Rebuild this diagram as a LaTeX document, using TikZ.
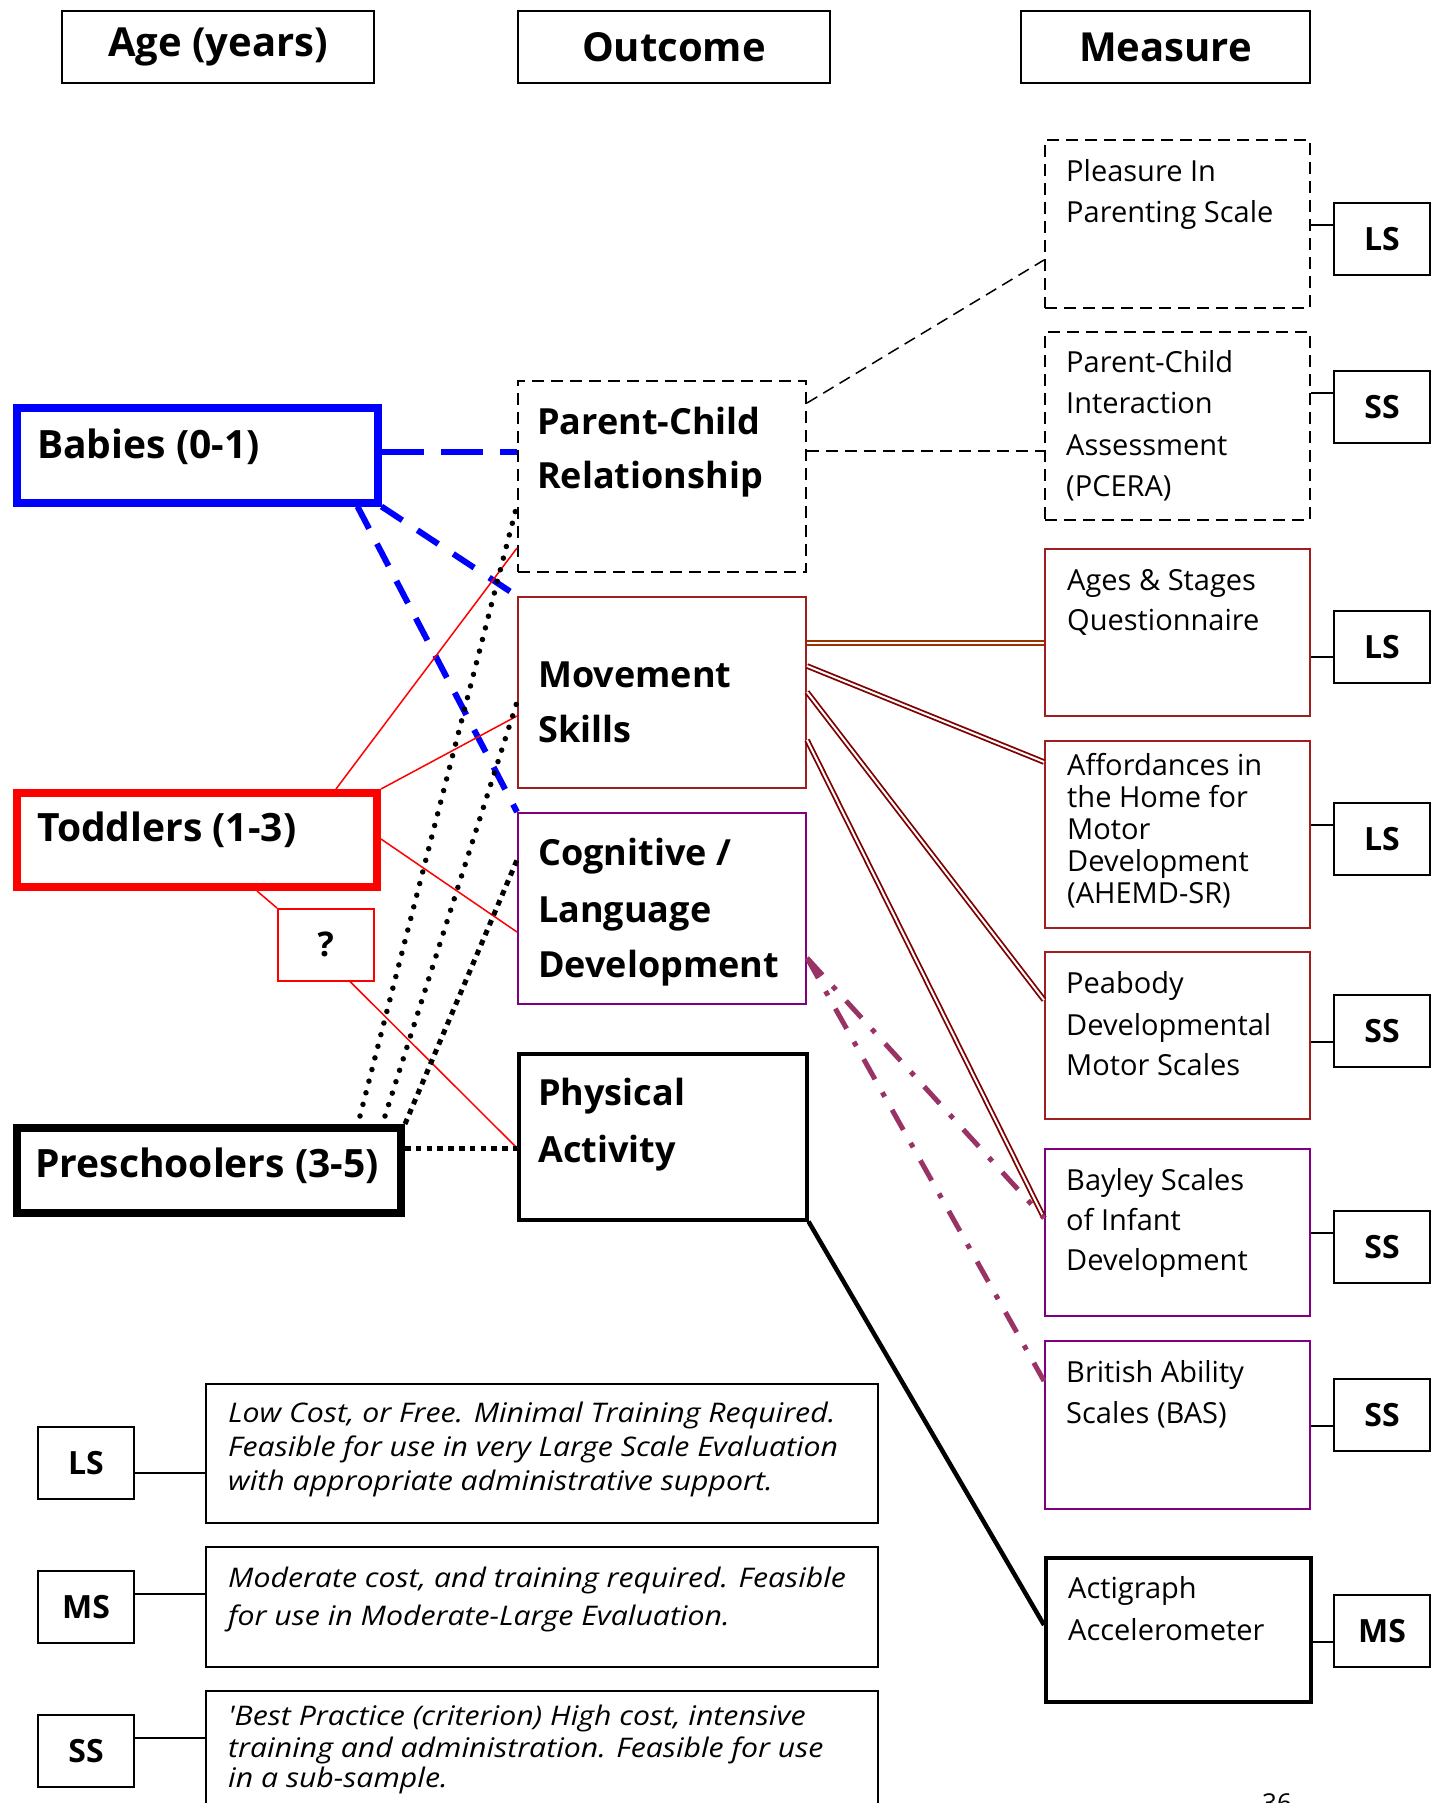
\documentclass[tikz,border=0pt]{standalone}
\usepackage{fontspec}
\setmainfont{Open Sans}
\newfontfamily\legfont{Open Sans}[FakeStretch=1.12]
\definecolor{mred}{RGB}{160,30,30}
\definecolor{dred}{RGB}{128,0,0}
\definecolor{brwn}{RGB}{153,51,0}
\definecolor{mpurp}{RGB}{128,0,128}
\definecolor{ddash}{RGB}{153,51,102}
\newcommand\fHead{\fontsize{40}{42}\selectfont\bfseries}
\newcommand\fOut{\fontsize{36}{40}\selectfont\bfseries}
\newcommand\fAge{\fontsize{39}{42}\selectfont\bfseries}
\newcommand\fMeas{\fontsize{29}{31}\selectfont}
\newcommand\fTag{\fontsize{32}{34}\selectfont\bfseries}
\newcommand\fLeg{\legfont\fontsize{27}{30}\selectfont\itshape}
\begin{document}
\begin{tikzpicture}[x=1pt,y=-1pt,
  bx/.style={draw, inner sep=0pt, anchor=north west},
  lbl/.style={inner sep=0pt, anchor=base west},
  hdrbox/.style={bx, line width=2pt, minimum width=#1, minimum height=72pt, font=\fHead},
  outbox/.style={bx, line width=2pt, minimum width=288pt, minimum height=#1},
  measbox/.style={bx, line width=2pt, minimum width=265pt, minimum height=#1},
  tagbox/.style={bx, line width=2pt, minimum width=96pt, minimum height=72pt, font=\fTag},
  legbox/.style={bx, line width=2pt, minimum width=672pt, minimum height=#1},
  agebox/.style={bx, line width=8pt, minimum height=#1},
  dbl/.style={draw=#1, line width=1.8pt, double=white, double distance=2pt},
  bluedash/.style={draw=blue, line width=6pt},
  reddline/.style={draw=red, line width=1.5pt},
  rdots/.style={line width=5.5pt, line cap=round, dash pattern=on 0pt off 12pt},
  sqdots/.style={line width=5pt, dash pattern=on 5.5pt off 5.3pt},
  ddot/.style={draw=ddash, line width=5pt, dash pattern=on 23pt off 15pt on 5pt off 15pt},
  blk/.style={line width=1.5pt}]
\useasboundingbox[fill=white] (0,0) rectangle (1439,1803);

% headers
\node[hdrbox=312pt] (hage) at (61,10) {Age (years)};
\node[hdrbox=312pt] (hout) at (517,10) {Outcome};
\node[hdrbox=289pt] (hmeas) at (1020,10) {Measure};

% age boxes
\node[agebox=95pt, draw=blue, line width=7.5pt, minimum width=361pt] (babies) at (13,404) {};
\node[lbl, font=\fAge] (babiesT) at (37,458) {Babies (0-1)};
\node[agebox=94pt, draw=red, minimum width=360pt] (todd) at (13,789) {};
\node[lbl, font=\fAge] (toddT) at (37,841) {Toddlers (1-3)};
\node[agebox=85pt, draw=black, minimum width=384pt] (pre) at (13,1124) {};
\node[lbl, font=\fAge] (preT) at (35,1177) {Preschoolers (3-5)};
\node[bx, draw=red, line width=1.5pt, minimum width=96pt, minimum height=72pt, font=\fontsize{34}{36}\selectfont\bfseries] (qbox) at (277,908) {?};

% outcome boxes
\node[outbox=191pt, dashed, dash pattern=on 12pt off 7pt] (pcr) at (517,380) {};
\node[lbl, font=\fOut] (pcrT1) at (537,434) {Parent-Child};
\node[lbl, font=\fOut] (pcrT2) at (537,488) {Relationship};
\node[outbox=191pt, draw=mred] (mov) at (517,596) {};
\node[lbl, font=\fOut] (movT1) at (538,687) {Movement};
\node[lbl, font=\fOut] (movT2) at (538,742) {Skills};
\node[outbox=191pt, draw=mpurp] (cog) at (517,812) {};
\node[lbl, font=\fOut] (cogT1) at (538,865) {Cognitive /};
\node[lbl, font=\fOut] (cogT2) at (538,922) {Language};
\node[lbl, font=\fOut] (cogT3) at (538,977) {Development};
\node[outbox=166pt, line width=3.5pt] (phys) at (517,1052) {};
\node[lbl, font=\fOut] (physT1) at (538,1105) {Physical};
\node[lbl, font=\fOut] (physT2) at (538,1162) {Activity};

% measure boxes
\node[measbox=168pt, dashed, dash pattern=on 12pt off 7pt] (pips) at (1044,139) {};
\node[lbl, font=\fMeas] (pipsT1) at (1066,182) {Pleasure In};
\node[lbl, font=\fMeas] (pipsT2) at (1066,223) {Parenting Scale};
\node[tagbox] (pipsG) at (1333,202) {LS};

\node[measbox=188pt, dashed, dash pattern=on 12pt off 7pt] (pcera) at (1044,331) {};
\node[lbl, font=\fMeas] (pceraT1) at (1066,372) {Parent-Child};
\node[lbl, font=\fMeas] (pceraT2) at (1066,413) {Interaction};
\node[lbl, font=\fMeas] (pceraT3) at (1066,455) {Assessment};
\node[lbl, font=\fMeas] (pceraT4) at (1066,496) {(PCERA)};
\node[tagbox] (pceraG) at (1333,370) {SS};

\node[measbox=167pt, draw=mred] (asq) at (1044,548) {};
\node[lbl, font=\fMeas] (asqT1) at (1067,590) {Ages \& Stages};
\node[lbl, font=\fMeas] (asqT2) at (1067,630) {Questionnaire};
\node[tagbox] (asqG) at (1333,610) {LS};

\node[measbox=187pt, draw=mred] (ahemd) at (1044,740) {};
\node[lbl, font=\fMeas] (ahemdT1) at (1067,775) {Affordances in};
\node[lbl, font=\fMeas] (ahemdT2) at (1067,807) {the Home for};
\node[lbl, font=\fMeas] (ahemdT3) at (1067,839) {Motor};
\node[lbl, font=\fMeas] (ahemdT4) at (1067,871) {Development};
\node[lbl, font=\fMeas] (ahemdT5) at (1067,903) {(AHEMD-SR)};
\node[tagbox] (ahemdG) at (1333,802) {LS};

\node[measbox=167pt, draw=mred] (pea) at (1044,951) {};
\node[lbl, font=\fMeas] (peaT1) at (1066,993) {Peabody};
\node[lbl, font=\fMeas] (peaT2) at (1066,1035) {Developmental};
\node[lbl, font=\fMeas] (peaT3) at (1066,1075) {Motor Scales};
\node[tagbox] (peaG) at (1333,994) {SS};

\node[measbox=167pt, draw=mpurp] (bay) at (1044,1148) {};
\node[lbl, font=\fMeas] (bayT1) at (1066,1190) {Bayley Scales};
\node[lbl, font=\fMeas] (bayT2) at (1066,1230) {of Infant};
\node[lbl, font=\fMeas] (bayT3) at (1066,1270) {Development};
\node[tagbox] (bayG) at (1333,1210) {SS};

\node[measbox=168pt, draw=mpurp] (bas) at (1044,1340) {};
\node[lbl, font=\fMeas] (basT1) at (1066,1382) {British Ability};
\node[lbl, font=\fMeas] (basT2) at (1066,1423) {Scales (BAS)};
\node[tagbox] (basG) at (1333,1378) {SS};

\node[measbox=144pt, line width=4pt] (acti) at (1044,1556) {};
\node[lbl, font=\fMeas] (actiT1) at (1068,1598) {Actigraph};
\node[lbl, font=\fMeas] (actiT2) at (1068,1640) {Accelerometer};
\node[tagbox] (actiG) at (1333,1594) {MS};

% legend
\node[tagbox] (lgLS) at (37,1426) {LS};
\node[legbox=139pt] (lgLSd) at (205,1383) {};
\node[lbl, font=\fLeg] (lgLS1) at (228,1422) {Low Cost, or Free. Minimal Training Required.};
\node[lbl, font=\fLeg] (lgLS2) at (228,1456) {Feasible for use in very Large Scale Evaluation};
\node[lbl, font=\fLeg] (lgLS3) at (228,1490) {with appropriate administrative support.};
\node[tagbox] (lgMS) at (37,1570) {MS};
\node[legbox=120pt] (lgMSd) at (205,1546) {};
\node[lbl, font=\fLeg] (lgMS1) at (228,1587) {Moderate cost, and training required. Feasible};
\node[lbl, font=\fLeg] (lgMS2) at (228,1625) {for use in Moderate-Large Evaluation.};
\node[tagbox] (lgSS) at (37,1714) {SS};
\node[legbox=140pt] (lgSSd) at (205,1690) {};
\node[lbl, font=\fLeg] (lgSS1) at (228,1725) {'Best Practice (criterion) High cost, intensive};
\node[lbl, font=\fLeg] (lgSS2) at (228,1757) {training and administration. Feasible for use};
\node[lbl, font=\fLeg] (lgSS3) at (228,1787) {in a sub-sample.};
\node[inner sep=0pt, anchor=north west, font=\fontsize{26}{26}\selectfont] (pgno) at (1262,1793) {36};

% tag connectors
\draw[blk] ([yshift=-86pt]pips.north east) -- ([yshift=-23pt]pipsG.north west);
\draw[blk] ([yshift=-62pt]pcera.north east) -- ([yshift=-23pt]pceraG.north west);
\draw[blk] ([yshift=-109pt]asq.north east) -- ([yshift=-47pt]asqG.north west);
\draw[blk] ([yshift=-85pt]ahemd.north east) -- ([yshift=-23pt]ahemdG.north west);
\draw[blk] ([yshift=-91pt]pea.north east) -- ([yshift=-48pt]peaG.north west);
\draw[blk] ([yshift=-85pt]bay.north east) -- ([yshift=-23pt]bayG.north west);
\draw[blk] ([yshift=-86pt]bas.north east) -- ([yshift=-48pt]basG.north west);
\draw[blk] ([yshift=-86pt]acti.north east) -- ([yshift=-48pt]actiG.north west);
\draw[blk] ([yshift=-47pt]lgLS.north east) -- ([yshift=-90pt]lgLSd.north west);
\draw[blk] ([yshift=-24pt]lgMS.north east) -- ([yshift=-48pt]lgMSd.north west);
\draw[blk] ([yshift=-24pt]lgSS.north east) -- ([yshift=-48pt]lgSSd.north west);

% outcome -> measure
\draw[blk, dash pattern=on 12pt off 7pt] ([yshift=-23pt]pcr.north east) -- ([yshift=-121pt]pips.north west);
\draw[blk, dash pattern=on 12pt off 7pt] ([yshift=-71pt]pcr.north east) -- ([yshift=-120pt]pcera.north west);
\draw[dbl=brwn] ([yshift=-47pt]mov.north east) -- ([yshift=-95pt]asq.north west);
\draw[dbl=dred] ([yshift=-70pt]mov.north east) -- ([yshift=-22pt]ahemd.north west);
\draw[dbl=dred] ([yshift=-96pt]mov.north east) -- ([yshift=-49pt]pea.north west);
\draw[dbl=dred] ([yshift=-144pt]mov.north east) -- ([yshift=-70pt]bay.north west);
\draw[ddot] ([yshift=-146pt]cog.north east) -- ([yshift=-70pt]bay.north west);
\draw[ddot] ([yshift=-146pt]cog.north east) -- ([yshift=-41pt]bas.north west);
\draw[line width=4.5pt] (phys.south east) -- ([yshift=-69pt]acti.north west);

% age -> outcome
\draw[bluedash, dash pattern=on 42pt off 17pt] ([yshift=-48pt]babies.north east) -- ([yshift=-72pt]pcr.north west);
\draw[bluedash, dash pattern=on 25pt off 18pt] (babies.south east) -- (mov.north west);
\draw[bluedash, dash pattern=on 25pt off 17pt] ([xshift=-24pt]babies.south east) -- (cog.north west);
\draw[reddline] ([xshift=-45pt]todd.north east) -- ([yshift=-168pt]pcr.north west);
\draw[reddline] (todd.north east) -- ([yshift=-120pt]mov.north west);
\draw[reddline] ([yshift=-50pt]todd.north east) -- ([yshift=-120pt]cog.north west);
\draw[reddline] ([xshift=244pt]todd.south west) -- (qbox.north west);
\draw[reddline] ([xshift=73pt]qbox.south west) -- ([yshift=-96pt]phys.north west);
\draw[sqdots] ([yshift=-24pt]pre.north east) -- ([yshift=-96pt]phys.north west);
\draw[sqdots] (pre.north east) -- ([yshift=-48pt]cog.north west);
\draw[rdots] ([xshift=-20pt,yshift=8pt]pre.north east) -- ([yshift=-106pt]mov.north west);
\draw[rdots] ([xshift=-45pt,yshift=8pt]pre.north east) -- ([yshift=-125pt]pcr.north west);
\end{tikzpicture}
\end{document}
